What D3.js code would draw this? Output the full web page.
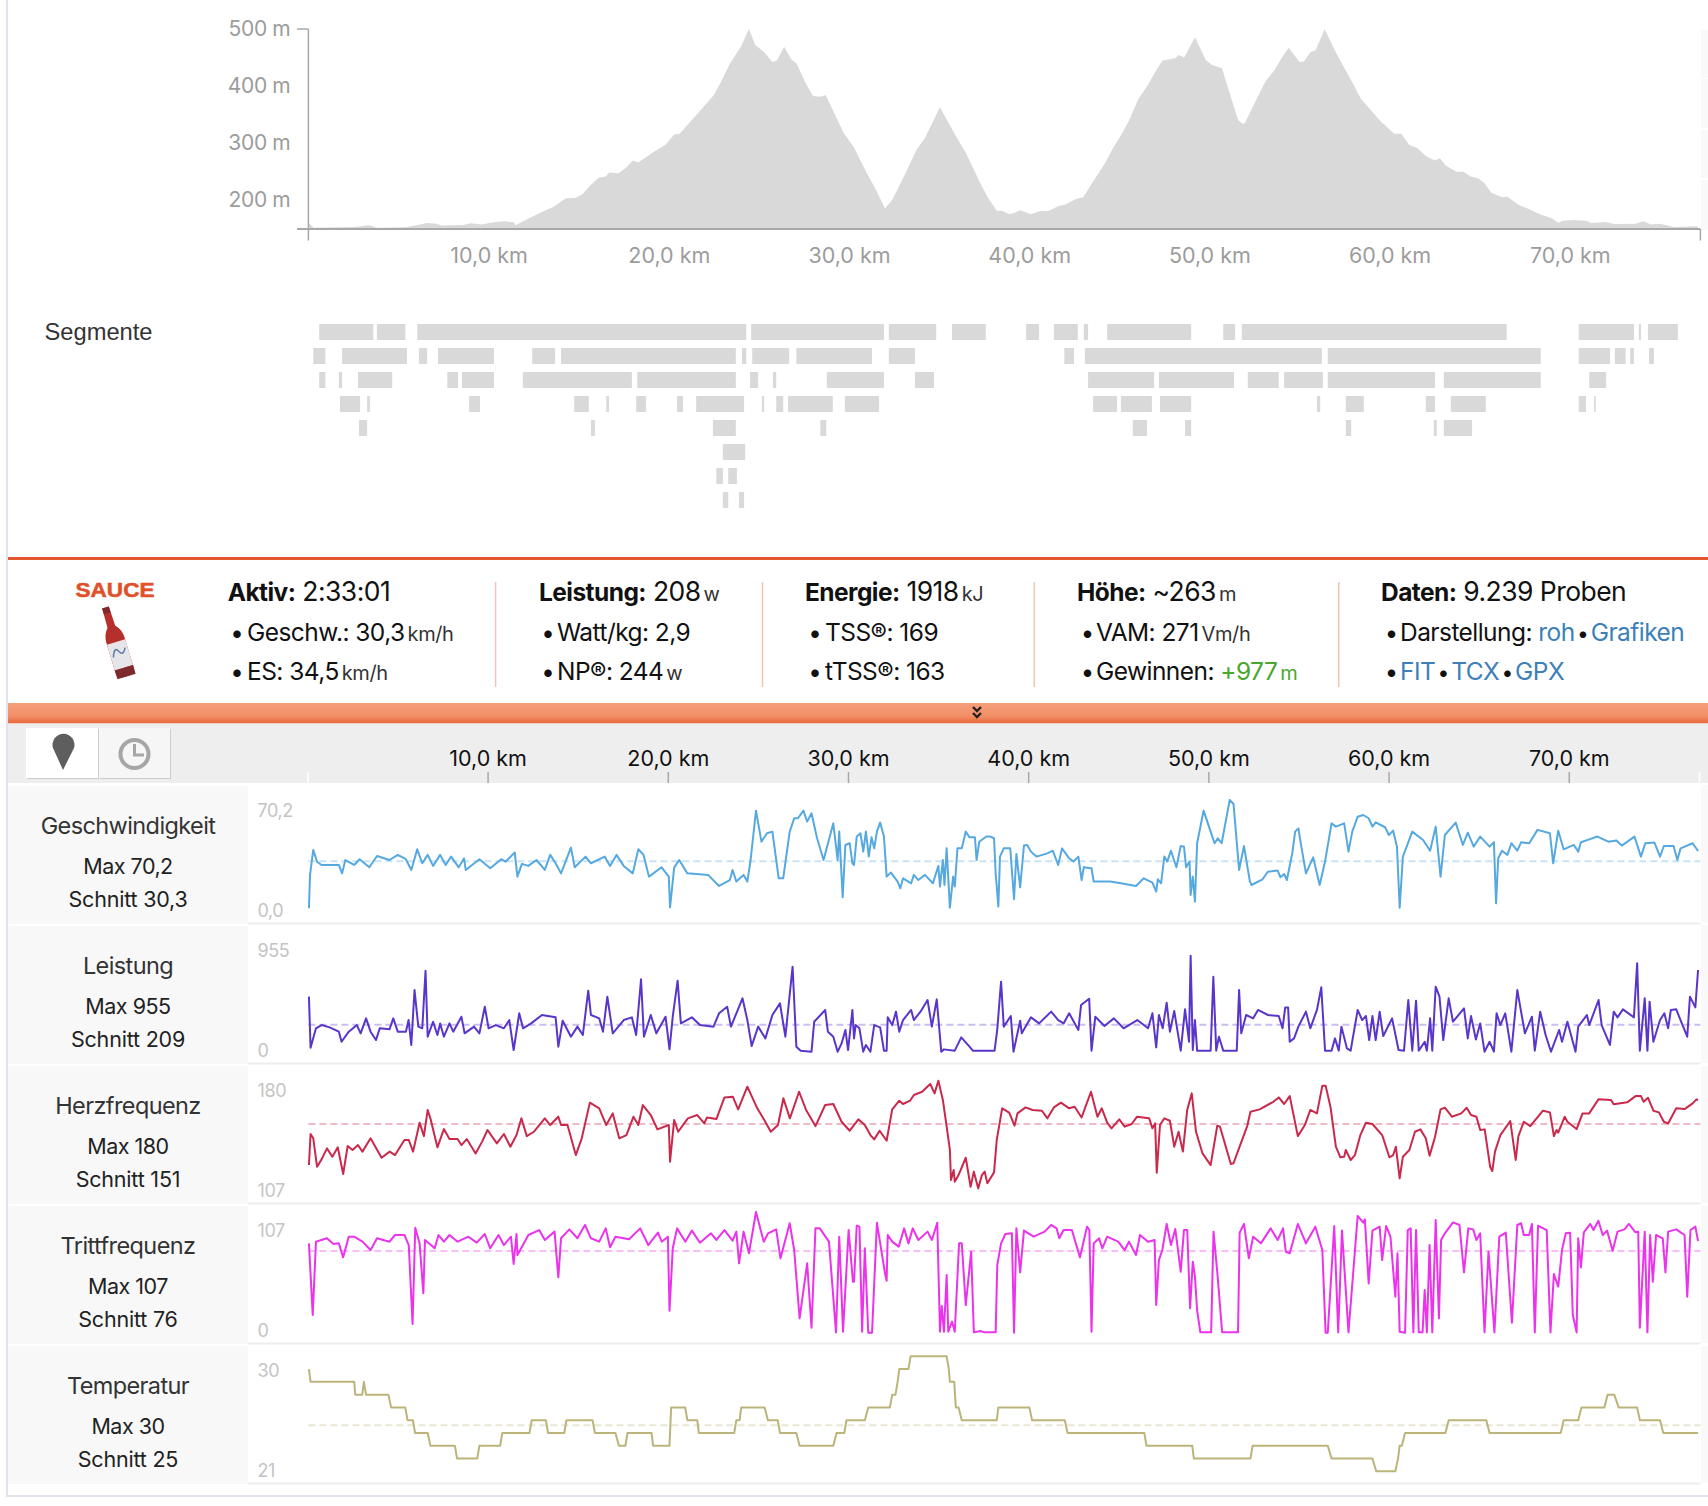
<!DOCTYPE html>
<html>
<head>
<meta charset="utf-8">
<title>Sauce</title>
<script src="https://cdn.jsdelivr.net/npm/d3@7"></script>
<style>
body { margin:0; background:#fff; }
text { font-family:Inter,"Noto Sans",sans-serif; }
</style>
</head>
<body>
<div id="chart"></div>
<script>
// values: [km, value]
var kmTicks=[10,20,30,40,50,60,70];
var elevTicks=[200,300,400,500];
var elevation=[[0,160],[.3,151],[2.5,152.5],[3.4,155.4],[3.8,151],[5.4,152],[5.9,155],[6.6,159.5],[7.1,158],[7.4,155],[8.6,156],[9,159],[9.6,157],[10.1,160],[10.85,162.5],[11.4,161],[11.5,155.5],[11.9,162],[12.8,176.5],[13.6,188],[14.3,203],[14.8,203.4],[15.2,210],[15.7,227],[16.1,239],[16.5,241],[16.7,248],[17.2,247],[17.6,255.5],[18,269],[18.3,265.5],[19.2,285],[19.8,296.5],[20.3,315],[20.6,316],[21.7,355],[22.5,384],[22.9,407.6],[23.4,440],[24,469],[24.45,500],[24.8,472],[25.3,459],[25.75,442],[26,444.5],[26.4,469],[26.8,447],[27.1,439],[27.6,405],[28,382.5],[28.4,381],[28.7,384],[29.1,358],[29.7,318],[30.28,292],[30.9,252.5],[31.5,217.5],[32,185],[32.4,200],[33,238],[33.75,288],[34.2,308],[35.05,362.6],[35.9,314],[36.5,282],[37.2,235],[37.7,204.6],[38.2,181],[38.5,181],[38.9,175],[39.2,177.7],[39.5,182],[40.1,175],[40.6,180.6],[41.1,181],[41.6,189],[42,192],[42.6,201.7],[43,204.6],[43.6,235],[44.2,264],[44.6,288],[45.1,314],[45.55,340],[46.05,376.6],[46.6,402],[47,425],[47.4,444.5],[48.1,448.6],[48.3,454.5],[48.6,450],[49.2,485.5],[49.8,445.7],[50.15,437],[50.7,431],[51.1,390],[51.6,340],[51.9,332.7],[52,337],[52.55,372.5],[53.1,407.6],[53.6,427],[54,448.6],[54.4,467.3],[55,442],[55.25,443],[55.6,459],[55.9,463],[56.4,499.5],[57,460],[57.5,431],[58,402],[58.4,378],[59.45,340],[60.25,316],[60.65,316],[61.1,296.5],[61.55,290.6],[62,277.7],[62.5,269],[62.8,273],[63.1,261],[63.7,249.6],[64.1,249.6],[64.5,241],[64.9,238],[65.25,230],[65.65,212.8],[66.25,204.6],[66.55,205.8],[67.15,191.7],[67.75,183.5],[68.35,175],[69,167.7],[69.35,160],[69.6,163.6],[70.2,164.8],[70.9,163.6],[71.2,159.5],[72,161.3],[72.45,157.8],[73.65,158.4],[74.1,162.5],[74.5,157],[75,158],[75.8,152.5],[77.1,153.7]];

// segments: one list per row, [start km, end km]
var segRow0=[[.6,3.6],[3.8,5.38],[6.04,24.3],[24.57,31.94],[32.21,34.84],[35.72,37.59],[39.83,40.55],[41.37,42.7],[43.03,43.27],[44.33,48.99],[50.77,51.43],[51.8,66.5],[70.5,73.56],[73.83,73.95],[74.34,76]];
var segRow1=[[.27,.94],[1.87,5.47],[6.13,6.59],[7.19,10.3],[12.42,13.69],[14.02,23.72],[24.06,24.3],[24.63,26.68],[27.08,31.28],[32.21,33.66],[41.95,42.49],[43.09,56.24],[56.57,68.39],[70.5,72.23],[72.5,73.1],[73.35,73.56],[74.4,74.67]];
var segRow2=[[.6,.94],[1.69,1.87],[2.75,4.65],[7.71,8.31],[8.52,10.3],[11.9,17.95],[18.25,23.72],[24.51,24.96],[25.78,25.96],[28.77,31.94],[33.66,34.72],[43.27,46.93],[47.2,51.37],[52.13,53.85],[54.15,56.3],[56.57,62.52],[63.01,68.39],[71.08,72.02]];
var segRow3=[[1.75,2.87],[3.26,3.41],[8.92,9.52],[14.75,15.56],[16.53,16.68],[18.19,18.74],[20.46,20.79],[21.52,24.18],[25.17,25.29],[25.96,26.35],[26.62,29.1],[29.77,31.67],[43.55,44.88],[45.09,46.81],[47.26,48.99],[55.97,56.15],[57.57,58.57],[62.01,62.52],[63.4,65.34],[70.5,70.9],[71.35,71.44]];
var segRow4=[[2.81,3.26],[15.68,15.9],[22.45,23.72],[28.41,28.74],[45.75,46.54],[48.65,48.99],[57.57,57.87],[62.46,62.62],[63.01,64.58]];
var segRow5=[[23,24.24]];
var segRow6=[[22.64,23],[23.3,23.78]];
var segRow7=[[23,23.3],[23.9,24.18]];

var speed=[[.03,0],[.09,21.5],[.27,37.6],[.48,30],[.73,27.9],[1.18,27.9],[1.69,27.9],[1.87,22.5],[2.05,31.1],[2.54,27.9],[2.84,31.6],[3.38,26.4],[3.81,33.7],[4.5,31.1],[4.96,34.4],[5.41,31.6],[5.71,24.7],[6.04,38],[6.32,29],[6.62,34.4],[6.92,27.3],[7.31,34.4],[7.62,27.9],[7.92,33.3],[8.34,26.4],[8.64,32.2],[8.73,24.7],[9.49,31.6],[10.09,25.8],[10.7,31.6],[10.94,30],[11.45,35.9],[11.6,20.4],[11.85,28.6],[12.2,27.3],[12.66,31.1],[13.12,24.7],[13.42,34.4],[13.72,29],[14.02,22.5],[14.57,39.1],[14.78,26.4],[15.38,33.3],[15.68,29],[16.44,33.3],[16.74,27.3],[17.1,34.4],[17.5,27.3],[18,22.5],[18.31,38],[18.6,34.4],[18.9,20.4],[19.6,26.4],[20,20.4],[20.07,.6],[20.3,26.4],[20.58,31.1],[21.03,22.5],[22.18,21.5],[22.79,14.4],[23.39,18.2],[23.54,24.7],[23.75,17.2],[24.15,21.5],[24.36,17.2],[24.54,31.1],[24.84,62.9],[25.14,42.9],[25.45,48.3],[25.75,49.4],[26.1,19.3],[26.35,19.3],[26.71,49.4],[26.96,58],[27.17,58],[27.47,62.9],[27.68,55.8],[27.92,61.2],[28.23,45.1],[28.59,31.1],[29.13,54.7],[29.37,31.1],[29.46,49.4],[29.65,7.1],[29.8,40.8],[30.04,41.9],[30.19,29],[30.28,27.9],[30.43,46.2],[30.64,48.3],[30.79,36.5],[30.94,49.4],[31.1,33.3],[31.25,45.7],[31.4,38.6],[31.55,49.4],[31.73,55.2],[31.94,46.2],[32.09,20.4],[32.33,23],[32.7,17.2],[32.85,12.9],[33,19.3],[33.45,16.1],[33.6,21.5],[33.85,18.2],[34.21,21.5],[34.66,16.1],[34.96,27.3],[35.05,14],[35.21,31.1],[35.3,15],[35.42,38.6],[35.6,.4],[35.78,20.4],[35.87,14],[36.02,38.6],[36.26,38.6],[36.48,49.4],[36.69,45.7],[36.99,45.7],[37.08,31.1],[37.23,42.9],[37.62,46.2],[37.84,46.2],[38.05,45.1],[38.14,22.5],[38.29,1.1],[38.38,33.3],[38.59,38.6],[38.95,38.6],[39.16,5.8],[39.29,35],[39.5,13.5],[39.71,40.4],[39.89,40.8],[40.1,36.5],[40.4,33.3],[41.01,35.4],[41.31,37.1],[41.61,27.9],[41.82,38.6],[42.22,32.2],[42.46,30.1],[42.73,33.3],[42.91,18.2],[43.03,26.4],[43.46,25.8],[43.58,17.2],[44.03,17.2],[44.49,17.2],[45.09,16.1],[45.93,14.4],[46.36,19.3],[46.84,16.5],[47.05,10.7],[47.14,18.7],[47.32,16.1],[47.5,33.3],[47.66,30.1],[47.87,37.1],[48.17,26.4],[48.41,40.1],[48.59,39.7],[48.71,26.4],[48.9,30.1],[48.96,8.6],[49.08,20.4],[49.2,4.3],[49.32,41.9],[49.68,62.9],[50.07,49.4],[50.29,41.9],[50.47,45.1],[50.68,41.9],[51.13,69.8],[51.34,67.2],[51.65,24.7],[51.92,40.1],[52.25,17.2],[52.34,15],[52.95,18.7],[53.25,23.6],[53.79,24.3],[53.94,20],[54.15,22.1],[54.3,18.2],[54.6,35.4],[54.76,49.4],[54.94,51.5],[55.12,38.6],[55.36,22.5],[55.76,32.8],[56.12,15],[56.42,30.1],[56.78,54.7],[57.02,52.6],[57.48,54.7],[57.72,36.5],[57.93,49.4],[58.23,59],[58.54,60.1],[58.84,58],[59.05,52.6],[59.23,55.4],[59.75,52.2],[59.96,47.2],[60.2,50],[60.41,39.7],[60.56,.4],[60.74,33.3],[61.26,49.4],[61.86,44],[62.25,37.1],[62.56,52.6],[62.83,20.4],[63.07,47.2],[63.67,55.2],[64.07,40.8],[64.34,48.7],[64.67,39.7],[65.03,46.2],[65.55,39.7],[65.79,42.5],[65.91,3.2],[66.03,32.2],[66.24,37.1],[66.54,34.4],[66.76,41.9],[67.09,37.1],[67.3,42.5],[67.75,41.9],[68.21,50.5],[68.9,48.3],[69.08,29],[69.36,50],[69.66,38],[70.23,40.8],[70.47,36.5],[70.62,42.5],[71.08,44.4],[71.53,46.2],[72.14,42.9],[72.59,43.6],[72.89,40.4],[73.59,46.2],[73.95,33.3],[74.19,41.9],[74.7,42.3],[75.01,33.3],[75.22,40.1],[75.76,40.1],[75.97,31.1],[76.15,38.6],[76.82,41.9],[77.12,36.9]];

var power=[[.03,426],[.12,31],[.42,181],[.73,206],[1.18,188],[1.69,155],[1.84,77],[2.24,155],[2.69,206],[2.9,142],[3.2,258],[3.45,155],[3.75,90],[3.96,181],[4.5,173],[4.71,258],[4.96,155],[5.41,155],[5.56,245],[5.71,52],[5.89,477],[6.1,194],[6.32,181],[6.5,627],[6.62,116],[6.92,232],[7.16,129],[7.31,219],[7.52,116],[7.83,219],[8.04,155],[8.49,271],[8.67,142],[9.19,194],[9.49,142],[9.79,348],[10,181],[10.4,206],[10.85,181],[11.15,245],[11.39,13],[11.7,297],[11.91,181],[12.36,219],[12.96,284],[13.72,266],[13.87,39],[14.11,240],[14.57,116],[14.93,194],[15.23,129],[15.53,472],[15.68,284],[16.14,258],[16.35,155],[16.59,426],[16.89,142],[17.5,245],[17.95,266],[18.19,129],[18.46,560],[18.62,116],[19,284],[19.31,142],[19.82,271],[20.04,18],[20.22,271],[20.49,550],[20.67,219],[21.28,266],[21.73,206],[22.48,194],[22.79,297],[23.24,348],[23.45,194],[23.75,297],[24.09,413],[24.36,245],[24.6,44],[24.96,194],[25.36,103],[25.75,284],[26.17,374],[26.47,116],[26.87,658],[27.08,39],[27.32,8],[27.92,0],[28.07,232],[28.68,323],[28.83,155],[29.13,116],[29.37,0],[29.59,64],[29.8,168],[29.95,13],[30.19,323],[30.28,103],[30.37,206],[30.58,181],[30.79,0],[30.94,52],[31.19,0],[31.4,206],[31.73,188],[31.94,8],[32.09,8],[32.15,266],[32.4,206],[32.61,310],[32.79,155],[33,245],[33.45,323],[33.6,245],[33.97,310],[34.36,400],[34.6,194],[34.87,405],[35.12,0],[35.27,18],[35.87,8],[36.23,111],[36.69,39],[36.87,8],[38.08,8],[38.23,173],[38.44,542],[38.59,194],[38.98,276],[39.13,0],[39.5,240],[39.59,142],[40.1,266],[40.55,219],[41.22,310],[41.61,245],[41.91,219],[42.22,297],[42.73,168],[42.88,361],[43.33,410],[43.46,8],[43.67,271],[44.18,199],[44.7,258],[45.24,181],[46,245],[46.6,181],[46.84,297],[47.05,34],[47.2,284],[47.41,181],[47.63,379],[47.81,155],[48.05,315],[48.41,8],[48.65,328],[48.87,77],[48.96,743],[49.08,13],[49.2,245],[49.32,8],[50.07,8],[50.22,580],[50.38,8],[50.53,116],[50.77,8],[51.52,8],[51.65,477],[51.77,142],[52.04,284],[52.43,258],[52.7,323],[53.25,284],[53.85,276],[54.06,181],[54.21,343],[54.37,343],[54.46,77],[54.7,103],[54.94,194],[55.36,310],[55.6,181],[55.97,323],[56.21,498],[56.42,8],[56.78,8],[56.97,103],[57.18,8],[57.33,194],[57.63,26],[57.84,8],[58.23,323],[58.48,245],[58.69,276],[58.87,90],[59.05,276],[59.23,90],[59.45,310],[59.65,121],[60.14,258],[60.5,13],[60.8,8],[61.04,400],[61.26,8],[61.47,395],[61.62,8],[61.95,77],[62.07,8],[62.25,258],[62.37,8],[62.56,503],[62.77,426],[62.98,90],[63.28,413],[63.52,232],[64.13,335],[64.34,103],[64.52,276],[64.79,95],[65.03,219],[65.27,0],[65.55,77],[65.79,0],[65.94,297],[66.15,206],[66.42,297],[66.76,0],[67.09,477],[67.51,142],[67.9,271],[68.06,8],[68.36,310],[68.66,129],[68.96,0],[69.41,168],[69.57,77],[69.87,232],[70.32,0],[70.47,194],[70.95,284],[71.08,206],[71.6,400],[71.77,206],[72.23,52],[72.44,310],[72.65,266],[72.95,328],[73.56,266],[73.74,684],[73.89,8],[74.16,413],[74.31,8],[74.43,387],[74.64,77],[75.01,245],[75.25,297],[75.46,181],[75.61,323],[75.91,328],[76.22,219],[76.52,116],[76.67,426],[76.97,343],[77.12,632]];

var heartrate=[[.03,123.5],[.12,144.3],[.27,141.4],[.48,122.4],[.73,127.3],[1.03,134.7],[1.33,129.1],[1.63,135.4],[1.93,117.5],[2.18,136.3],[2.45,133.6],[2.75,136.9],[3,132.5],[3.45,141.4],[4.06,128.4],[4.51,132.5],[4.81,130.2],[5.33,140.3],[5.57,140.3],[5.81,132.5],[6.17,151.9],[6.41,142.9],[6.62,160.4],[6.77,154.8],[7.16,135.4],[7.52,147.6],[7.83,140.9],[8.28,140.9],[8.49,136.9],[8.79,140.9],[9.28,131.3],[9.64,139.2],[9.94,147],[10.46,138],[10.85,144.3],[11.21,135.8],[11.55,143.6],[11.82,154.8],[12.12,142.9],[12.51,145.8],[13.12,154.8],[13.42,150.3],[13.87,155.9],[14.02,150.3],[14.38,150.3],[14.84,130.2],[15.17,141.4],[15.62,165.3],[16.14,161.5],[16.53,150.3],[16.89,158.1],[17.25,141.4],[17.65,143.6],[18.04,155.9],[18.31,150.3],[18.56,163.7],[19,157],[19.37,147.4],[20,150.3],[20.07,125.8],[20.3,153.7],[20.52,145.8],[21.06,154.8],[21.58,157],[21.97,151.4],[22.12,155.4],[22.64,154.3],[23.09,168.8],[23.55,169.3],[23.85,160.8],[24.36,176],[24.91,161.5],[25.3,153.7],[25.66,145.8],[26.06,150.3],[26.36,168.2],[26.72,154.8],[27.23,172.6],[27.62,160.4],[28.14,149.6],[28.68,163.7],[29.13,164.4],[29.59,152.5],[30.04,146.5],[30.28,150.3],[30.52,154.1],[30.88,150.3],[31.19,143.6],[31.4,140.7],[31.7,146.5],[32.09,139.8],[32.4,160.8],[32.79,166.6],[33,164.4],[33.39,166.6],[33.6,170.4],[34.06,172.6],[34.51,177.8],[34.75,171.5],[34.96,180],[35.21,167.1],[35.42,149.2],[35.6,133.6],[35.66,113.5],[35.81,120.2],[35.87,112.4],[36.08,116.8],[36.48,128.4],[36.75,109],[36.93,119.1],[37.17,107.9],[37.38,116.8],[37.53,119.1],[37.68,111.3],[38.05,118.6],[38.2,140.3],[38.5,161.5],[38.89,158.6],[39.19,149.9],[39.35,158.1],[39.8,162.1],[40.19,160.4],[40.71,159.9],[41.01,154.8],[41.37,162.1],[41.76,165.3],[42.22,161.5],[42.52,162.6],[42.91,155.4],[43.43,172.6],[43.79,155.9],[44.03,161.5],[44.33,151.9],[44.57,148.1],[45,154.1],[45.3,149.2],[45.69,151],[45.99,155.9],[46.66,154.8],[46.84,148.1],[46.99,151.4],[47.08,118.4],[47.26,150.3],[47.5,154.8],[47.81,153.2],[48.05,135.8],[48.29,145.8],[48.53,132.5],[48.77,160.4],[49.02,171.5],[49.26,145.8],[49.62,131.3],[50.07,123.5],[50.44,149.9],[50.59,149.2],[51.19,124.2],[51.34,124.7],[51.68,135.8],[52.1,149.6],[52.28,159.2],[52.79,160.8],[53.55,165.9],[53.85,168.8],[54.15,164.4],[54.46,169.7],[54.91,142.9],[55.3,150.3],[55.6,160.4],[55.97,158.1],[56.27,176.7],[56.45,176.7],[56.72,162.6],[57.02,135.8],[57.27,128.7],[57.48,129.1],[57.57,133.6],[57.84,126.9],[58.08,130.2],[58.38,143.6],[58.69,151.9],[59.05,151],[59.59,143.6],[59.99,128.7],[60.2,130.2],[60.35,135.8],[60.56,114.6],[60.74,129.1],[61.1,133.6],[61.41,145.8],[61.71,147.4],[62.01,141.4],[62.22,129.8],[62.52,142.1],[62.83,160.8],[63.07,161.9],[63.46,155.9],[63.98,158.1],[64.28,161.9],[64.52,157],[64.82,155.9],[65.03,147],[65.28,147.4],[65.58,122.4],[65.7,119.5],[65.85,132.5],[66.15,143.6],[66.7,153],[67,126.9],[67.15,142.9],[67.45,152.5],[67.81,149.6],[68.51,159.9],[68.9,158.8],[69.12,142.9],[69.27,147],[69.36,145.2],[69.72,155.9],[69.87,152.5],[70.38,147.6],[70.71,158.1],[71.08,158.1],[71.59,167.5],[72.29,167.1],[72.44,164.2],[73.19,165.5],[73.65,169.7],[73.95,169.7],[74.1,165.9],[74.34,168.6],[74.64,159.9],[74.95,158.8],[75.22,152.5],[75.46,151.4],[75.91,161.5],[76.37,161],[76.82,164.8],[77.03,167.5],[77.12,167.1]];

var cadence=[[.03,79.2],[.24,15.7],[.42,80.7],[.73,82.2],[1.03,83.7],[1.39,78.6],[1.69,79.2],[1.93,66.8],[2.24,85.1],[2.54,85.1],[3,80.7],[3.45,73.3],[3.81,83.7],[4.5,80.7],[4.81,86.6],[5.33,86.6],[5.57,77.7],[5.78,7.7],[5.93,93.1],[6.17,79.2],[6.38,34.9],[6.47,82.2],[7.01,74.8],[7.22,86.6],[7.52,80.7],[7.83,86.6],[8.28,80.7],[8.88,85.1],[9.34,79.8],[9.79,87.5],[10.09,74.8],[10.55,86.6],[10.85,77.7],[11.24,85.1],[11.39,60.9],[11.55,87.5],[11.6,68.9],[12.21,86.6],[12.81,91],[13.12,82.2],[13.66,89.6],[13.87,49.1],[14.02,83.7],[14.48,91.6],[14.93,83.7],[15.35,95.5],[15.68,83.7],[16.14,80.7],[16.5,92.5],[16.74,75.7],[17.04,85.1],[17.8,82.8],[18.41,92.5],[18.86,77.7],[19.4,88.7],[19.61,80.7],[19.95,85.1],[20.04,19.5],[20.22,74.8],[20.46,92.5],[20.92,80.7],[21.28,90.5],[21.73,79.8],[22.34,88.1],[22.64,82.2],[23.09,91],[23.54,81.6],[23.75,89.6],[23.9,61.5],[24.15,89.6],[24.45,70.4],[24.84,107],[25.27,80.7],[25.51,88.1],[25.96,91.6],[26.2,65.9],[26.71,97],[26.96,73.3],[27.26,12.7],[27.68,61.5],[27.92,4.4],[28.14,92.5],[28.38,92.5],[28.89,80.7],[29.28,.3],[29.46,85.1],[29.67,.9],[29.98,91],[30.22,45.2],[30.28,45.2],[30.43,94.9],[30.58,94],[30.73,.9],[30.88,74.8],[31.07,0],[31.28,0],[31.55,97.5],[32,52.6],[32.09,46.1],[32.15,86.6],[32.4,80.7],[32.76,76.3],[33.06,92.5],[33.3,79.2],[33.54,92.5],[33.85,82.2],[34.36,89.6],[34.6,82.2],[34.9,97.5],[35.05,.9],[35.15,23.6],[35.27,.9],[35.42,51.1],[35.51,.9],[35.72,9.8],[35.87,.9],[36.11,79.2],[36.26,79.2],[36.48,24.5],[36.78,71.8],[36.93,.3],[37.29,1.5],[37.53,.3],[38.14,.3],[38.23,60],[38.44,79.2],[38.68,87.5],[39.04,88.1],[39.16,0],[39.29,92.5],[39.5,53.5],[39.71,90.5],[40.25,85.1],[40.86,89.6],[41.22,95.5],[41.52,92.5],[41.67,83.7],[41.91,91],[42.37,91],[42.82,66.8],[43.21,94],[43.34,91],[43.46,.9],[43.58,79.2],[43.88,83.7],[44.06,74.8],[44.33,85.1],[44.94,80.7],[45.3,73.3],[45.54,80.7],[45.93,68.9],[46.15,86.6],[46.6,80.7],[46.96,82.2],[47.05,24.5],[47.2,64.4],[47.39,73.3],[47.63,96.4],[47.87,77.7],[48.11,91.9],[48.41,54.1],[48.59,91],[48.77,91],[48.93,21.6],[49.08,63],[49.2,49.7],[49.32,20.1],[49.5,.3],[50.1,.3],[50.23,89.6],[50.44,53.5],[50.71,.3],[51.59,.3],[51.68,88.7],[51.92,96.4],[52.19,65.9],[52.43,85.1],[52.86,79.2],[53.4,92.5],[53.79,82.2],[54.09,92.5],[54.24,71.8],[54.46,70.4],[54.91,96.4],[55.36,79.2],[55.88,94],[56.27,73.3],[56.45,0],[56.57,0],[56.93,94.6],[57.15,.3],[57.36,90.5],[57.72,.3],[58.23,103.5],[58.54,97.5],[58.63,100.5],[58.84,43.7],[59.05,90.5],[59.45,94],[59.59,64.4],[59.81,94.6],[60.05,85.1],[60.32,31.9],[60.44,70.4],[60.56,.9],[60.86,0],[61.01,91],[61.17,92.5],[61.32,.3],[61.47,91],[61.62,.3],[61.83,.3],[61.95,37.8],[62.07,.3],[62.22,77.7],[62.37,.3],[62.56,99.9],[62.74,12.7],[62.86,82.2],[63.07,88.1],[63.52,97.8],[63.88,95.5],[64.13,53.5],[64.37,92.5],[64.64,91.6],[64.82,82.2],[65.03,88.1],[65.27,.3],[65.49,71.8],[65.82,.3],[66.09,85.1],[66.45,88.7],[66.79,8.9],[67.09,95.5],[67.3,97],[67.45,86.6],[67.75,86.6],[67.9,96.4],[68.06,.3],[68.24,94.9],[68.72,91],[68.93,.3],[69.12,52],[69.36,40.8],[69.57,73.3],[69.78,88.1],[70.02,88.7],[70.17,15.7],[70.38,.3],[70.47,83.7],[70.62,57.9],[70.78,89],[71.14,96.4],[71.32,91],[71.59,99.3],[71.83,86.6],[72.07,90.5],[72.38,72.7],[72.65,89.6],[73.04,91.6],[73.28,96.4],[73.65,89],[73.8,89.6],[73.89,4.4],[74.16,89.6],[74.31,.3],[74.46,86.6],[74.61,45.2],[74.79,86.6],[75.16,83.7],[75.31,53.5],[75.46,89.6],[75.91,91.6],[76.37,86.6],[76.52,31.9],[76.7,91],[76.97,94],[77.12,81.3]];

var temperature=[[.03,29],[.12,28],[2.54,28],[2.6,27],[2.99,27],[3.08,28],[3.2,27],[4.44,27],[4.59,26],[5.38,26],[5.5,25],[5.8,25],[5.92,24],[6.62,24],[6.77,23],[8.13,23],[8.25,22],[9.37,22],[9.49,23],[10.64,23],[10.76,24],[12.27,24],[12.39,25],[13.18,25],[13.3,24],[14.2,24],[14.32,25],[15.77,25],[15.9,24],[17.04,24],[17.23,23],[17.59,23],[17.71,24],[19.04,24],[19.13,23],[20.04,23],[20.13,26],[20.91,26],[21.03,25],[21.58,25],[21.67,24],[23.63,24],[23.75,25],[23.93,25],[24.02,26],[25.32,26],[25.5,25],[26.05,25],[26.17,24],[27.08,24],[27.26,23],[29.13,23],[29.31,24],[29.74,24],[29.86,25],[30.88,25],[31.07,26],[32.27,26],[32.4,27],[32.58,27],[32.7,28],[32.79,29],[33.3,29],[33.42,30],[35.42,30],[35.54,29],[35.6,28],[35.84,28],[35.93,26],[36.08,26],[36.26,25],[38.2,25],[38.29,26],[40.01,26],[40.16,25],[41.98,25],[42.13,24],[46.39,24],[46.51,23],[49.05,23],[49.14,22],[52.28,22],[52.4,23],[56.57,23],[56.78,22],[59.05,22],[59.26,21],[60.32,21],[60.47,22],[60.56,23],[60.68,23],[60.86,24],[63.1,24],[63.28,25],[65.37,25],[65.55,24],[69.5,24],[69.66,25],[70.47,25],[70.65,26],[71.92,26],[72.1,27],[72.47,27],[72.71,26],[73.74,26],[73.89,25],[75.01,25],[75.19,24],[77.12,24]];

var rowNames=['Geschwindigkeit','Leistung','Herzfrequenz','Trittfrequenz','Temperatur'];
var rowMaxLabels=['Max 70,2','Max 955','Max 180','Max 107','Max 30'];
var rowAvgLabels=['Schnitt 30,3','Schnitt 209','Schnitt 151','Schnitt 76','Schnitt 25'];
var rowTopLabels=['70,2','955','180','107','30'];
var rowBottomLabels=['0,0','0','107','0','21'];
var rowSeries=[speed,power,heartrate,cadence,temperature];
var rowMin=[0,0,107,0,21];
var rowMax=[70.2,955,180,107,30];
var rowMean=[30.3,209,151,72.5,24.6];   // where the dashed line sits

var statColumns=[
 [[['Aktiv:','b'],[' 2:33:01','h']],[['Geschw.: 30,3',''],['km/h','u']],[['ES: 34,5',''],['km/h','u']]],
 [[['Leistung:','b'],[' 208','h'],['w','u']],[['Watt/kg: 2,9','']],[['NP®: 244',''],['w','u']]],
 [[['Energie:','b'],[' 1918','h'],['kJ','u']],[['TSS®: 169','']],[['tTSS®: 163','']]],
 [[['Höhe:','b'],[' ~263','h'],['m','u']],[['VAM: 271',''],['Vm/h','u']],[['Gewinnen: ',''],['+977','g'],['m','gu']]],
 [[['Daten:','b'],[' 9.239 Proben','h']],[['Darstellung: ',''],['roh','l'],[' • ','d'],['Grafiken','l']],[['FIT','l'],[' • ','d'],['TCX','l'],[' • ','d'],['GPX','l']]]
];

var W=1708,H=1506,X0=308.4,X1=1700.4;
var svg=d3.select('#chart').append('svg').attr('width',W).attr('height',H).style('display','block');
var x=d3.scaleLinear().domain([0,77.25]).range([X0,X1]);
var gray='#d9d9d9';

// frame and the cut off blocks on the right
svg.append('rect').attr('x',6).attr('y',0).attr('width',2).attr('height',1497).attr('fill','#e2e2ec');
svg.append('rect').attr('x',6).attr('y',1495).attr('width',W-6).attr('height',2).attr('fill','#e2e2ec');
[[30,78],[79,128],[130,178],[180,230],[785,923],[925,1063],[1066,1203],[1206,1343],[1346,1483]].forEach(function(r) {
    svg.append('rect').attr('x',1701).attr('y',r[0]).attr('width',7).attr('height',r[1]-r[0]).attr('fill','#f9f9f9');
});

// elevation
var yElev=d3.scaleLinear().domain([149,500]).range([229,29]);
var area=d3.area().x(function(d) {return x(d[0]);}).y0(yElev(149)).y1(function(d) {return yElev(d[1]);});
svg.append('path').datum(elevation).attr('d',area).attr('fill',gray);

var axisCol='#a8a8a8';
var gy=svg.append('g').attr('transform','translate('+X0+',0)')
    .call(d3.axisLeft(yElev).tickValues(elevTicks).tickFormat(function(d) {return d+' m';}).tickSize(0).tickPadding(18));
gy.select('.domain').remove();
gy.selectAll('text').attr('fill','#9c9c9c').style('font-size','21px').style('letter-spacing','-0.35px').style('font-family','Inter');
svg.append('line').attr('x1',X0).attr('x2',X0).attr('y1',29).attr('y2',240.5).attr('stroke',axisCol).attr('stroke-width',1.5);
svg.append('line').attr('x1',297).attr('x2',X0).attr('y1',29).attr('y2',29).attr('stroke',axisCol).attr('stroke-width',1.5);
svg.append('line').attr('x1',297).attr('x2',X1).attr('y1',229).attr('y2',229).attr('stroke',axisCol).attr('stroke-width',2);
svg.append('line').attr('x1',X1).attr('x2',X1).attr('y1',229).attr('y2',240.5).attr('stroke',axisCol).attr('stroke-width',1.5);

var kmFormat=function(d) {return d+',0 km';};
var gx=svg.append('g').attr('transform','translate(0,229)')
    .call(d3.axisBottom(x).tickValues(kmTicks).tickFormat(kmFormat).tickSize(0).tickPadding(19));
gx.select('.domain').remove();
gx.selectAll('text').attr('fill','#9c9c9c').style('font-size','21.5px').style('letter-spacing','0').style('font-family','Inter');

// segments
svg.append('text').attr('x',44.5).attr('y',340).attr('fill','#333').style('font-family','Liberation Sans').style('font-size','23.7px').text('Segmente');
[segRow0,segRow1,segRow2,segRow3,segRow4,segRow5,segRow6,segRow7].forEach(function(row,i) {
    svg.append('g').selectAll('rect').data(row).enter().append('rect')
	.attr('x',function(d) {return x(d[0]);})
	.attr('width',function(d) {return x(d[1])-x(d[0]);})
	.attr('y',324+i*24).attr('height',16).attr('fill',gray);
});

// stats box
svg.append('rect').attr('x',8).attr('y',557).attr('width',W-8).attr('height',3).attr('fill','#e5562e');
svg.append('text').attr('x',115).attr('y',597).attr('text-anchor','middle').attr('fill','#e0502a').attr('stroke','#e0502a').attr('stroke-width',.5)
    .attr('textLength',79).attr('lengthAdjust','spacingAndGlyphs')
    .style('font-family','Liberation Sans').style('font-weight','bold').style('font-size','20px').text('SAUCE');

var bottle=svg.append('g').attr('transform','translate(116,642) rotate(-17)');
bottle.append('path').attr('d','M-3.5,-36 L3.5,-36 L4,-16 Q9.5,-10 9.5,-2 L9.5,30 Q9.5,36 3,36 L-3,36 Q-9.5,36 -9.5,30 L-9.5,-2 Q-9.5,-10 -4,-16 Z').attr('fill','#b5302c');
bottle.append('rect').attr('x',-3.5).attr('y',-36).attr('width',7).attr('height',6).attr('fill','#7c2a2c');
bottle.append('rect').attr('x',-9.5).attr('y',0).attr('width',19).attr('height',27).attr('fill','#e6e6ea');
bottle.append('path').attr('d','M-7,14 Q-3,3 0,10 Q3,16 7,8').attr('fill','none').attr('stroke','#5f7fa8').attr('stroke-width',1.5);
bottle.append('rect').attr('x',-9.5).attr('y',27).attr('width',19).attr('height',9).attr('fill','#7c2a2c');

var colX=[227.7,539,805,1077,1381];
var bulletX=[237,548,815,1087.6,1391.5];
var lineX=[247,557,825,1096,1400];
var lineY=[601,641,680];
[495.6,762.5,1034.3,1338.8].forEach(function(px) {
    svg.append('line').attr('x1',px).attr('x2',px).attr('y1',582).attr('y2',687).attr('stroke','#f4c4b4').attr('stroke-width',1.5);
});
statColumns.forEach(function(col,c) {
    col.forEach(function(parts,l) {
	if (l>0) {
	    svg.append('text').attr('x',bulletX[c]).attr('y',lineY[l]).attr('text-anchor','middle').attr('fill','#111').style('font-size','24px').text('•');
	}
	var t=svg.append('text').attr('x',l==0?colX[c]:lineX[c]).attr('y',lineY[l]).attr('fill','#111').style('font-size','24.5px').style('letter-spacing','-0.55px');
	parts.forEach(function(p) {
	    var s=t.append('tspan').text(p[0]);
	    if (p[1]=='b') s.style('font-weight','700');
	    if (p[1]=='h') s.style('font-size','26.5px');
	    if (p[1]=='u') s.attr('dx',3).style('font-size','20px').style('letter-spacing','-0.4px').attr('fill','#333');
	    if (p[1]=='l') s.attr('fill','#3d7fb8');
	    if (p[1]=='g') s.attr('fill','#4aa62e');
	    if (p[1]=='gu') s.attr('dx',3).attr('fill','#4aa62e').style('font-size','20px');
	    if (p[1]=='d') s.style('font-size','21px').style('word-spacing','-3px');
	});
    });
});

// orange band
var defs=svg.append('defs');
var grad=defs.append('linearGradient').attr('id','band').attr('x1',0).attr('x2',0).attr('y1',0).attr('y2',1);
grad.append('stop').attr('offset',0).attr('stop-color','#f5a07c');
grad.append('stop').attr('offset',.65).attr('stop-color','#f28e66');
grad.append('stop').attr('offset',1).attr('stop-color','#e8663a');
svg.append('rect').attr('x',8).attr('y',703).attr('width',W-8).attr('height',20.5).attr('fill','url(#band)');
[707,713].forEach(function(cy) {
    svg.append('path').attr('d','M'+(977-4)+','+cy+' L977,'+(cy+4)+' L'+(977+4)+','+cy)
	.attr('fill','none').attr('stroke','#222').attr('stroke-width',2.4);
});

// x axis strip
svg.append('rect').attr('x',8).attr('y',723.5).attr('width',W-8).attr('height',59.5).attr('fill','#eeeeee');
svg.append('rect').attr('x',26).attr('y',728).attr('width',72).attr('height',50).attr('fill','#fff').style('filter','drop-shadow(1px 1px 0.5px #ccc)');
svg.append('rect').attr('x',99).attr('y',728).attr('width',71).attr('height',50).attr('fill','#f6f6f6').style('filter','drop-shadow(1px 1px 0.5px #ccc)');
svg.append('path').attr('d','M63,770 L53,748 A11,11 0 1 1 74,748 Z').attr('fill','#5e5e5e');
svg.append('circle').attr('cx',134.5).attr('cy',754).attr('r',14).attr('fill','none').attr('stroke','#a6a6a6').attr('stroke-width',4);
svg.append('path').attr('d','M134.5,744 L134.5,755 L144,755').attr('fill','none').attr('stroke','#a6a6a6').attr('stroke-width',3);
var gx2=svg.append('g').attr('transform','translate(-1,783)')
    .call(d3.axisTop(x).tickValues(kmTicks).tickFormat(kmFormat).tickSize(11).tickPadding(6));
gx2.select('.domain').remove();
gx2.selectAll('line').attr('stroke','#a8a8a8').attr('stroke-width',1.5);
gx2.selectAll('text').attr('fill','#111').style('font-size','21.5px').style('letter-spacing','0').style('font-family','Inter');
[X0-0.5,1699.5].forEach(function(px) {
    svg.append('line').attr('x1',px).attr('x2',px).attr('y1',772).attr('y2',783).attr('stroke','#fff').attr('stroke-width',1.5);
});

// data rows
var rowTop=[786,926,1066,1206,1346];
var rowY0=[908.3,1051.7,1189.7,1332.7,1471.3];
var rowY1=[799.3,928.3,1080.7,1212,1356.3];
var rowColor=['#56a9e0','#5a35c9','#c9294b','#ea33ea','#bcb47a'];
rowNames.forEach(function(name,i) {
    var t=rowTop[i];
    svg.append('rect').attr('x',8).attr('y',t).attr('width',240).attr('height',138).attr('fill','#f8f8f8');
    svg.append('rect').attr('x',248).attr('y',t+136.5).attr('width',X1-248).attr('height',2).attr('fill','#eeeef0');
    svg.append('text').attr('x',128).attr('y',t+48).attr('text-anchor','middle').attr('fill','#333').style('font-size','23.5px').style('letter-spacing','-0.6px').text(name);
    svg.append('text').attr('x',128).attr('y',t+88).attr('text-anchor','middle').attr('fill','#222').style('font-size','21.5px').style('letter-spacing','-0.5px').text(rowMaxLabels[i]);
    svg.append('text').attr('x',128).attr('y',t+121).attr('text-anchor','middle').attr('fill','#222').style('font-size','21.5px').style('letter-spacing','-0.2px').text(rowAvgLabels[i]);
    svg.append('text').attr('x',257.5).attr('y',t+31).attr('fill','#c4c4c4').style('font-size','18px').style('letter-spacing','-0.4px').text(rowTopLabels[i]);
    svg.append('text').attr('x',257.5).attr('y',t+131).attr('fill','#c4c4c4').style('font-size','18px').style('letter-spacing','-0.4px').text(rowBottomLabels[i]);

    var y=d3.scaleLinear().domain([rowMin[i],rowMax[i]]).range([rowY0[i],rowY1[i]]);
    svg.append('line').attr('x1',X0).attr('x2',X1).attr('y1',y(rowMean[i])).attr('y2',y(rowMean[i]))
	.attr('stroke',rowColor[i]).attr('stroke-opacity',.32).attr('stroke-width',2).attr('stroke-dasharray','7,4');
    var line=d3.line().x(function(d) {return x(d[0]);}).y(function(d) {return y(d[1]);});
    svg.append('path').datum(rowSeries[i]).attr('d',line).attr('fill','none').attr('stroke',rowColor[i]).attr('stroke-width',2).attr('stroke-linejoin','round');
});
</script>
</body>
</html>
